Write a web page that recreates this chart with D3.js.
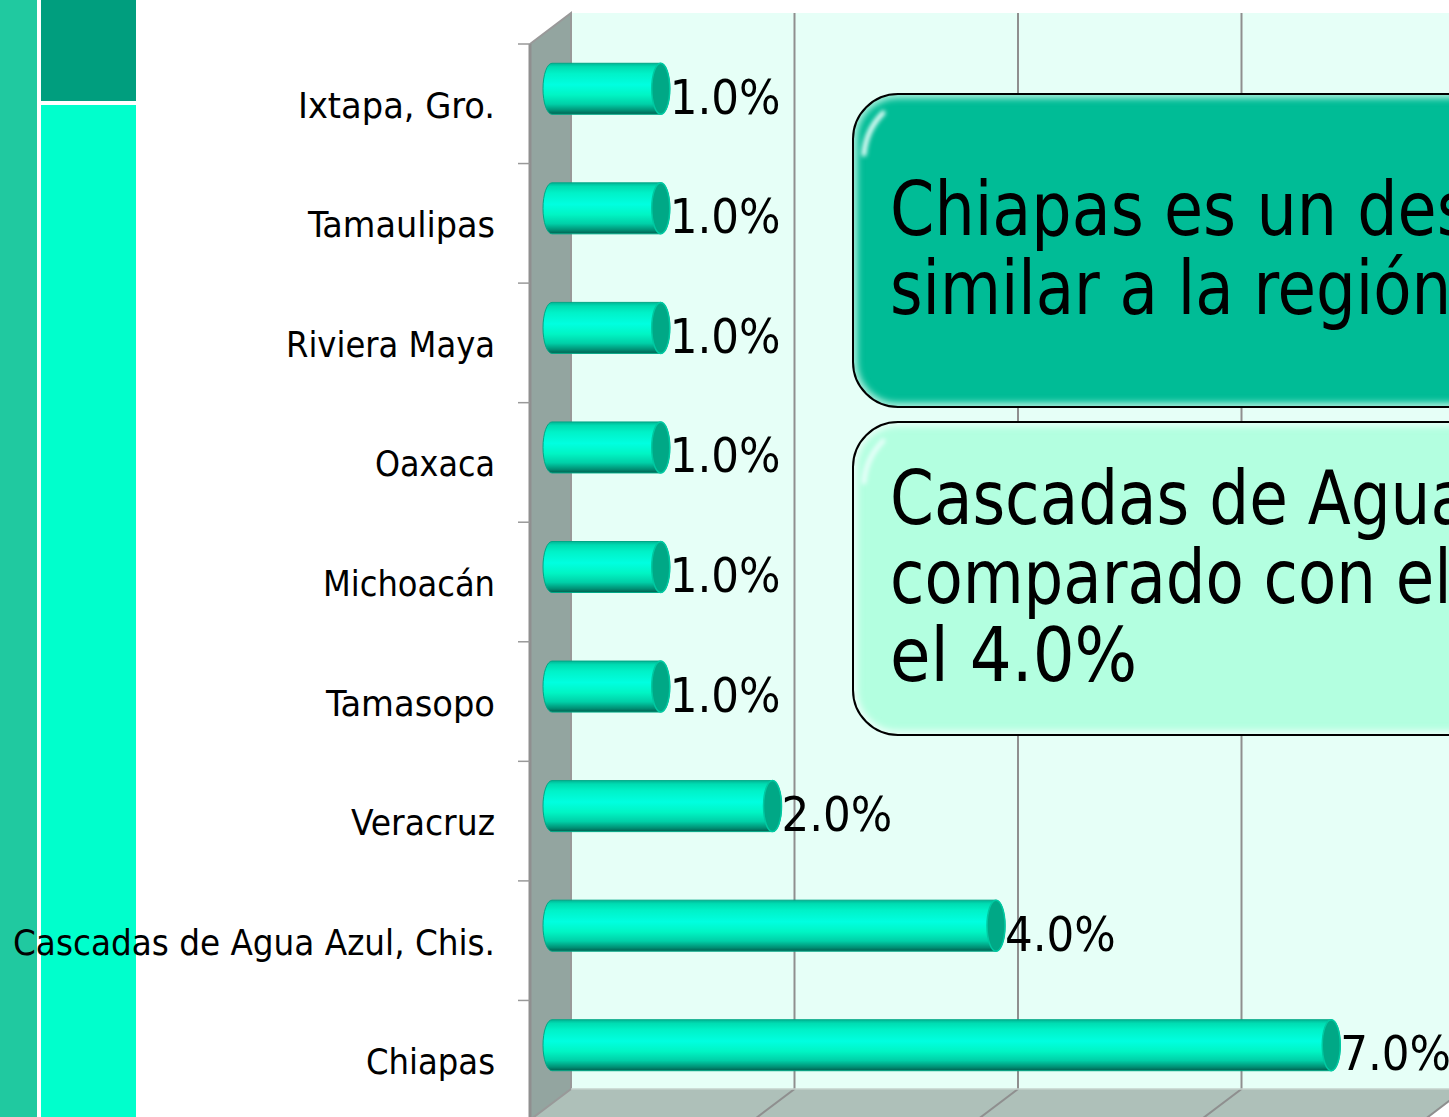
<!DOCTYPE html>
<html><head><meta charset="utf-8">
<script src="https://cdnjs.cloudflare.com/ajax/libs/d3/7.8.5/d3.min.js"></script>
<style>html,body{margin:0;padding:0;background:#fff;overflow:hidden}svg{display:block}
text{font-family:"DejaVu Sans Condensed","DejaVu Sans",sans-serif;fill:#000}</style>
</head><body><svg id="c" width="1449" height="1117"></svg>
<script>
const categories=["Ixtapa, Gro.","Tamaulipas","Riviera Maya","Oaxaca","Michoacán","Tamasopo","Veracruz","Cascadas de Agua Azul, Chis.","Chiapas"];
const values=[1,1,1,1,1,1,2,4,7];
const xTicks=[0,2,4,6,8];
const note1=["Chiapas es un des","similar a la región"];
const note2=["Cascadas de Agua","comparado con el","el 4.0%"];

// layout only: rendered widths of the axis labels, and horizontal squeeze of the note lines
const labelWidths=[197,187,209,120,172,169,144,482,129];
const note1Squeeze=[.955,.94];
const note2Squeeze=[.944,.94,.99];

const svg=d3.select("#c");
const x=d3.scaleLinear().domain([0,8]).range([571,1465]);
const y=d3.scaleBand().domain(categories).range([44,1120]);
const depthX=41, depthY=31, wallTop=13, floorY=1089;
const defs=svg.append("defs");
const g=defs.append("linearGradient").attr("id","cyl").attr("x1",0).attr("y1",0).attr("x2",0).attr("y2",1);
[[0,"#00b696"],[.07,"#00dcb2"],[.2,"#00f2c8"],[.42,"#00ffe0"],[.62,"#00f5c4"],[.8,"#00d0a8"],[.93,"#008f74"],[1,"#005f4f"]]
 .forEach(s=>g.append("stop").attr("offset",s[0]).attr("stop-color",s[1]));
defs.append("filter").attr("id","soft").attr("x","-20%").attr("y","-20%").attr("width","140%").attr("height","140%")
 .append("feGaussianBlur").attr("stdDeviation",3);
defs.append("filter").attr("id","soft2").attr("x","-50%").attr("y","-50%").attr("width","200%").attr("height","200%")
 .append("feGaussianBlur").attr("stdDeviation",2);

// side decoration
svg.append("rect").attr("x",0).attr("y",0).attr("width",37).attr("height",1117).attr("fill","#20c9a0");
svg.append("rect").attr("x",41).attr("y",0).attr("width",95).attr("height",101).attr("fill","#009e7e");
svg.append("rect").attr("x",41).attr("y",105).attr("width",95).attr("height",1012).attr("fill","#00ffcc");

// walls
svg.append("rect").attr("x",x(0)).attr("y",wallTop).attr("width",x(8)-x(0)).attr("height",floorY-wallTop).attr("fill","#e6fff7");
svg.append("path").attr("d",`M${x(0)-depthX},${wallTop+depthY}L${x(0)},${wallTop}L${x(0)},${floorY}L${x(0)-depthX},${floorY+depthY}Z`)
 .attr("fill","#93a5a0");
svg.append("path").attr("d",`M${x(0)},${floorY}L${x(8)},${floorY}L${x(8)-depthX},${floorY+depthY}L${x(0)-depthX},${floorY+depthY}Z`)
 .attr("fill","#aec0b9");
// grid
xTicks.slice(1).forEach(t=>{
  svg.append("path").attr("fill","none").attr("stroke","#8f8f8f").attr("stroke-width",2)
   .attr("d",`M${x(t)},${wallTop}V${floorY}l${-depthX},${depthY}`);
});
svg.append("path").attr("fill","none").attr("stroke","#999").attr("stroke-width",2)
 .attr("d",`M${x(0)-depthX},${wallTop+depthY}L${x(0)},${wallTop}V${floorY}L${x(0)-depthX},${floorY+depthY}`);
svg.append("line").attr("x1",x(0)-depthX).attr("x2",x(0)-depthX).attr("y1",wallTop+depthY).attr("y2",1120).attr("stroke","#8f8f8f").attr("stroke-width",3);
svg.append("line").attr("x1",x(0)).attr("x2",x(8)).attr("y1",floorY).attr("y2",floorY).attr("stroke","#c4d2cc").attr("stroke-width",1.5);
// category ticks
categories.forEach(c=>{
  svg.append("line").attr("x1",518).attr("x2",x(0)-depthX).attr("y1",y(c)).attr("y2",y(c)).attr("stroke","#999").attr("stroke-width",1.5);
});
// labels
svg.append("g").selectAll("text").data(categories).join("text")
 .attr("x",495).attr("y",c=>y(c)+y.bandwidth()/2+14).attr("text-anchor","end").attr("font-size",35.5)
 .attr("textLength",(c,i)=>labelWidths[i]).attr("lengthAdjust","spacingAndGlyphs").text(c=>c);

// bars
const rx=9, hh=25.5, x0=552;
const rows=categories.map((c,i)=>({c,v:values[i]}));
const bars=svg.append("g").selectAll("g").data(rows).join("g")
 .attr("transform",d=>`translate(0,${y(d.c)+y.bandwidth()/2-15})`);
bars.append("path").attr("fill","url(#cyl)").attr("stroke","#00a886").attr("stroke-width",1)
 .attr("d",d=>{const e=x(d.v)-22;return `M${x0},${-hh}L${e},${-hh}A${rx},${hh} 0 0 1 ${e},${hh}L${x0},${hh}A${rx},${hh} 0 0 1 ${x0},${-hh}Z`;});
bars.append("ellipse").attr("cx",d=>x(d.v)-22).attr("cy",0).attr("rx",rx).attr("ry",hh).attr("fill","#00a886").attr("stroke","#00c9a2").attr("stroke-width",1.5);
svg.append("g").selectAll("text").data(rows).join("text")
 .attr("x",d=>x(d.v)-22+rx).attr("y",d=>y(d.c)+y.bandwidth()/2+10).attr("font-size",48.5)
 .text(d=>d.v.toFixed(1)+"%");

// callouts
function callout(yTop,fill,rim,lines,squeeze,firstBase){
  const X=853,W=700,H=313,R=45;
  svg.append("rect").attr("x",X).attr("y",yTop).attr("width",W).attr("height",H).attr("rx",R).attr("fill",fill);
  const id="clip"+yTop;
  defs.append("clipPath").attr("id",id).append("rect").attr("x",X).attr("y",yTop).attr("width",W).attr("height",H).attr("rx",R);
  const c=svg.append("g").attr("clip-path",`url(#${id})`);
  c.append("rect").attr("x",X).attr("y",yTop).attr("width",W).attr("height",H).attr("rx",R)
   .attr("fill","none").attr("stroke",rim).attr("stroke-width",9).attr("filter","url(#soft)");
  c.append("path").attr("d",`M${X+11},${yTop+60}Q${X+13},${yTop+36} ${X+30},${yTop+19}`)
   .attr("fill","none").attr("stroke","#e8fffa").attr("stroke-width",5).attr("stroke-linecap","round").attr("filter","url(#soft2)");
  svg.append("rect").attr("x",X).attr("y",yTop).attr("width",W).attr("height",H).attr("rx",R).attr("fill","none").attr("stroke","#000").attr("stroke-width",2);
  svg.append("g").selectAll("text").data(lines).join("text")
   .attr("transform",(d,i)=>`translate(890,${firstBase+i*78.7}) scale(${squeeze[i]},1)`)
   .attr("font-size",74).text(d=>d);
}
callout(94,"#00bc96","#a8efdc",note1,note1Squeeze,235);
callout(422,"#b3ffe0","#eafff8",note2,note2Squeeze,524);
</script></body></html>
